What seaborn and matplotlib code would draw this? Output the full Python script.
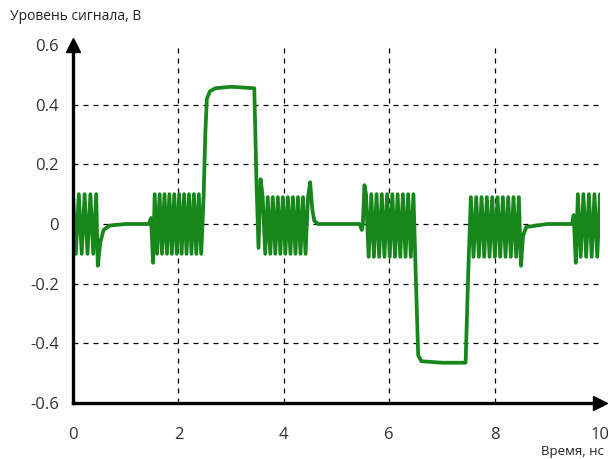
import numpy as np
import pandas as pd
import matplotlib
matplotlib.use("Agg")
import matplotlib.pyplot as plt
import seaborn as sns

# settling / transition points (time in ns, level in V)
edge_t = [0.47, 0.52, 0.58, 0.70, 1.00, 1.44, 1.48, 1.52,
          2.51, 2.54, 2.60, 2.70, 3.00, 3.44, 3.48, 3.52, 3.56,
          4.50, 4.54, 4.58, 4.65, 5.00, 5.44, 5.48, 5.50, 5.53,
          6.50, 6.55, 6.61, 7.00, 7.45, 7.50,
          8.50, 8.54, 8.60, 9.00, 9.47, 9.50, 9.54]
edge_v = [-0.14, -0.06, -0.02, -0.005, 0.0, 0.0, 0.02, -0.13,
          0.30, 0.42, 0.445, 0.455, 0.46, 0.455, 0.15, -0.08, 0.15,
          0.14, 0.05, 0.01, 0.0, 0.0, 0.0, -0.02, 0.0, 0.13,
          -0.15, -0.44, -0.46, -0.465, -0.465, -0.16,
          -0.14, -0.04, -0.01, 0.0, 0.0, 0.03, -0.13]

# ringing bursts: start, end, number of periods, top and bottom level
burst_start = [0.00, 1.55, 3.60, 5.56, 7.55, 9.58]
burst_end = [0.44, 2.48, 4.46, 6.46, 8.46, 10.0]
burst_periods = [4, 10, 9, 9, 9, 4]
burst_hi = [0.10, 0.10, 0.09, 0.10, 0.09, 0.10]
burst_lo = [-0.10, -0.10, -0.10, -0.11, -0.11, -0.11]

x_ticks = [0, 2, 4, 6, 8, 10]
y_ticks = [-0.6, -0.4, -0.2, 0, 0.2, 0.4, 0.6]
grid_x = [2, 4, 6, 8]
grid_y = [-0.4, -0.2, 0, 0.2, 0.4]

# build the trace: burst peaks alternate between top and bottom levels
t_pts = list(edge_t)
v_pts = list(edge_v)
for s, e, n, hi, lo in zip(burst_start, burst_end, burst_periods, burst_hi, burst_lo):
    for k in range(2 * n + 1):
        t_pts.append(s + k * (e - s) / (2 * n))
        v_pts.append(hi if k % 2 == 0 else lo)
df = pd.DataFrame({"t": t_pts, "v": v_pts}).sort_values("t")

sns.set_style("white")
plt.rcParams["font.family"] = ["Open Sans", "DejaVu Sans"]
plt.rcParams["axes.unicode_minus"] = False

fig = plt.figure(figsize=(6.08, 4.59), dpi=100)
ax = fig.add_axes([73 / 608, 56 / 459, 527 / 608, 358 / 459])

ax.hlines(grid_y, 0, 10, colors="black", linestyles=(0, (4, 4)), linewidth=0.9, zorder=1)
ax.vlines(grid_x, -0.6, 0.6, colors="black", linestyles=(0, (4, 4)), linewidth=0.9, zorder=1)

sns.lineplot(data=df, x="t", y="v", sort=False, estimator=None,
             color="#17871b", linewidth=2.7, ax=ax, zorder=3)

ax.set_xlim(0, 10)
ax.set_ylim(-0.6, 0.6)
ax.set_xticks(x_ticks)
ax.set_xticklabels([str(x) for x in x_ticks])
ax.set_yticks(y_ticks)
ax.set_yticklabels([f"{y:.1f}" if y != 0 else "0" for y in y_ticks])
ax.tick_params(axis="both", length=0, labelsize=12, colors="#333333")
ax.tick_params(axis="x", pad=17)
ax.tick_params(axis="y", pad=10)
ax.set_xlabel("")
ax.set_ylabel("")

for side in ["top", "right"]:
    ax.spines[side].set_visible(False)
for side in ["left", "bottom"]:
    ax.spines[side].set_linewidth(2.4)
    ax.spines[side].set_color("black")
    ax.spines[side].set_zorder(4)

# arrow heads on the axes
ax.plot(1, 0, ">k", markersize=10, transform=ax.transAxes, clip_on=False, zorder=5)
ax.plot(0, 1, "^k", markersize=10, transform=ax.transAxes, clip_on=False, zorder=5)

fig.text(10 / 608, 1 - 17 / 459, "Уровень сигнала, В", fontsize=10, color="#222222",
         ha="left", va="center")
fig.text(604 / 608, 1 - 451 / 459, "Время, нс", fontsize=9.5, color="#222222",
         ha="right", va="center")

fig.savefig("out.png", dpi=100)
